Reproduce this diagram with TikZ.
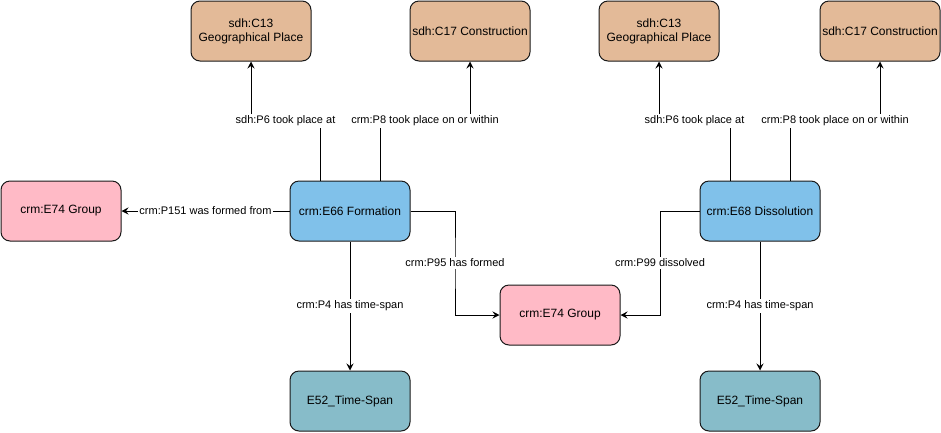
\documentclass[tikz,border=0pt]{standalone}
\usepackage{fontspec}
\setmainfont{Liberation Sans}
\usetikzlibrary{arrows.meta}
\definecolor{tanc}{HTML}{E3BA98}
\definecolor{pinkc}{HTML}{FFBAC6}
\definecolor{bluec}{HTML}{80C1EA}
\definecolor{tealc}{HTML}{87BCC9}
\tikzset{
  box/.style={draw=black!90, line width=1pt, rounded corners=9pt, minimum width=120pt, minimum height=60pt, align=center, font=\fontsize{12}{14}\selectfont, inner sep=2pt},
  tanbox/.style={box, fill=tanc},
  pinkbox/.style={box, fill=pinkc},
  bluebox/.style={box, fill=bluec},
  tealbox/.style={box, fill=tealc},
  arr/.style={line width=1pt, -{Stealth[length=7pt,width=7pt,inset=2.5pt]}},
  lbl/.style={fill=white, inner sep=1.5pt, font=\fontsize{11}{13}\selectfont}
}
\begin{document}
\begin{tikzpicture}[x=1pt,y=-1pt]
\useasboundingbox (0,0) rectangle (941,432);
\node[tanbox] (geo1) at (251,31) {sdh:C13\\Geographical Place};
\node[tanbox] (con1) at (470,31) {sdh:C17 Construction};
\node[tanbox] (geo2) at (659,31) {sdh:C13\\Geographical Place};
\node[tanbox] (con2) at (880,31) {sdh:C17 Construction};
\node[pinkbox] (grpL) at (61,211) {crm:E74 Group};
\node[bluebox] (form) at (350,211) {crm:E66 Formation};
\node[bluebox] (diss) at (760,211) {crm:E68 Dissolution};
\node[pinkbox] (grpC) at (560,315) {crm:E74 Group};
\node[tealbox] (ts1) at (350,401) {E52\_Time-Span};
\node[tealbox] (ts2) at (760,401) {E52\_Time-Span};
% bend coordinates
\coordinate (b1) at (285.5,121);
\coordinate (b2) at (425,121);
\coordinate (b3) at (694.5,121);
\coordinate (b4) at (835,121);
\coordinate (b5) at (455,263);
\coordinate (b6) at (660,263);
% edges
\draw[arr] ([xshift=-30pt]form.north) |- (b1) -| (geo1.south);
\node[lbl] at (b1) {sdh:P6 took place at};
\draw[arr] ([xshift=30pt]form.north) |- (b2) -| (con1.south);
\node[lbl] at (b2) {crm:P8 took place on or within};
\draw[arr] ([xshift=-30pt]diss.north) |- (b3) -| (geo2.south);
\node[lbl] at (b3) {sdh:P6 took place at};
\draw[arr] ([xshift=30pt]diss.north) |- (b4) -| (con2.south);
\node[lbl] at (b4) {crm:P8 took place on or within};
\draw[arr] (form.west) -- node[lbl]{crm:P151 was formed from} (grpL.east);
\draw[arr] (form.east) -| (b5) |- (grpC.west);
\node[lbl] at (b5) {crm:P95 has formed};
\draw[arr] (diss.west) -| (b6) |- (grpC.east);
\node[lbl] at (b6) {crm:P99 dissolved};
\draw[arr] (form.south) -- node[lbl]{crm:P4 has time-span} (ts1.north);
\draw[arr] (diss.south) -- node[lbl]{crm:P4 has time-span} (ts2.north);
\end{tikzpicture}
\end{document}
